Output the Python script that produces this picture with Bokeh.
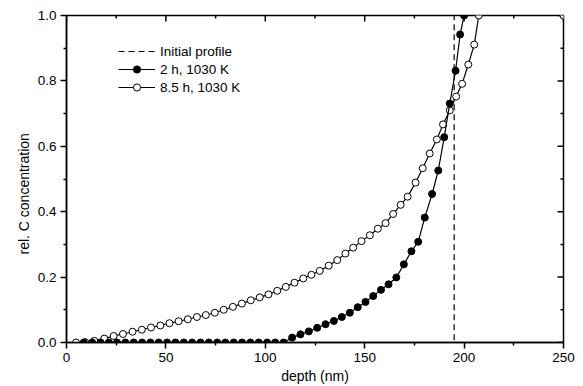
import math
from bokeh.plotting import figure
from bokeh.models import (Range1d, Legend, LegendItem, Title,
                          FixedTicker, CustomJSTickFormatter)
from bokeh.embed import file_html
from bokeh.resources import INLINE

# ---- data ----
init_depth = [0, 195, 195, 250]
init_conc = [0.0, 0.0, 1.0, 1.0]

filled_depth = [8.7, 12.9, 17.1, 21.3, 25.4, 29.6, 33.8, 38.0, 42.2, 46.4, 50.6,
                54.8, 59.0, 63.2, 67.4, 71.6, 75.8, 79.9, 84.1, 88.3, 92.5, 96.7,
                100.9, 105.0, 109.2, 113.5, 117.7, 121.9, 126.1, 130.3, 134.5,
                138.5, 142.5, 146.5, 150.4, 154.3, 158.2, 162.0, 165.9, 169.7,
                173.5, 176.9, 180.2, 183.9, 187.0, 190.0, 192.8, 195.7, 198.0, 200.0]
filled_conc = [0.0, 0.0, 0.0, 0.0, 0.0, 0.0, 0.0, 0.0, 0.0, 0.0, 0.0,
               0.0, 0.0, 0.0, 0.0, 0.0, 0.0, 0.0, 0.0, 0.0, 0.0, 0.0,
               0.0, 0.0, 0.0, 0.015, 0.025, 0.034, 0.045, 0.056, 0.066,
               0.078, 0.091, 0.108, 0.124, 0.142, 0.161, 0.178, 0.199, 0.239,
               0.279, 0.308, 0.382, 0.454, 0.526, 0.628, 0.731, 0.831, 0.942, 1.0]

open_depth = [4.8, 9.4, 14.0, 19.0, 23.7, 28.4, 33.2, 37.9, 42.5, 47.2, 51.8,
              56.4, 61.0, 65.6, 70.1, 74.6, 79.1, 83.7, 88.2, 92.7, 97.2, 101.6,
              106.0, 110.3, 114.7, 119.1, 123.2, 127.4, 131.9, 136.2, 140.3,
              144.2, 148.4, 152.6, 156.6, 160.5, 164.3, 168.1, 171.6, 175.6,
              179.2, 182.7, 186.3, 189.4, 192.8, 196.0, 199.0, 202.1, 205.1,
              207.4, 250.0]
open_conc = [0.0, 0.001, 0.005, 0.012, 0.02, 0.026, 0.033, 0.039, 0.046, 0.052,
             0.059, 0.065, 0.071, 0.078, 0.084, 0.091, 0.1, 0.109, 0.119, 0.129,
             0.138, 0.147, 0.158, 0.17, 0.183, 0.196, 0.207, 0.219, 0.235, 0.252,
             0.272, 0.29, 0.31, 0.328, 0.348, 0.365, 0.393, 0.421, 0.446, 0.489,
             0.533, 0.578, 0.621, 0.667, 0.71, 0.752, 0.791, 0.85, 0.911, 1.0, 1.0]

x_ticks = [0, 50, 100, 150, 200, 250]
x_minor = [25, 75, 125, 175, 225]
y_ticks = [0.0, 0.2, 0.4, 0.6, 0.8, 1.0]
y_minor = [0.1, 0.3, 0.5, 0.7, 0.9]

FONT = "Liberation Sans"
X_END = 250
Y_END = 1.0
FRAME_W = 1.5

p = figure(width=583, height=386, output_backend="svg", toolbar_location=None,
           x_range=Range1d(0, X_END), y_range=Range1d(0, Y_END),
           min_border_left=66, min_border_right=20, min_border_top=15,
           min_border_bottom=41)
p.background_fill_color = "white"
p.border_fill_color = "white"
p.outline_line_color = "black"
p.outline_line_width = FRAME_W
p.xgrid.visible = False
p.ygrid.visible = False


def style(ax, ticks, minor):
    ax.ticker = FixedTicker(ticks=ticks, minor_ticks=minor)
    ax.axis_line_color = "black"
    ax.axis_line_width = FRAME_W
    ax.major_tick_line_color = "black"
    ax.minor_tick_line_color = "black"
    ax.major_tick_line_width = FRAME_W
    ax.minor_tick_line_width = FRAME_W
    ax.major_tick_out = 6
    ax.major_tick_in = 0
    ax.minor_tick_out = 3
    ax.minor_tick_in = 0
    ax.major_label_text_font = FONT
    ax.major_label_text_font_size = "13.5px"
    ax.major_label_text_color = "black"
    ax.major_label_standoff = 4


xa = p.xaxis[0]
ya = p.yaxis[0]
style(xa, x_ticks, x_minor)
style(ya, y_ticks, y_minor)
ya.formatter = CustomJSTickFormatter(code="return tick.toFixed(1);")
xa.axis_label = "depth (nm)"
xa.axis_label_text_font = FONT
xa.axis_label_text_font_size = "14px"
xa.axis_label_text_font_style = "normal"
xa.axis_label_text_color = "black"
xa.axis_label_standoff = 3

ytitle = Title(text="rel. C concentration", align="left", offset=88,
               vertical_align="middle", standoff=4,
               text_font=FONT, text_font_size="14px",
               text_font_style="normal", text_color="black")
p.add_layout(ytitle, "left")

# inward ticks on the top and right frame edges (mirror of the axis ticks)
MAJ_Y = 0.018   # ~6 px in data units (y)
MIN_Y = 0.009
MAJ_X = 3.0     # ~6 px in data units (x)
MIN_X = 1.5
p.segment(x0=x_ticks, x1=x_ticks, y0=[Y_END] * len(x_ticks),
          y1=[Y_END - MAJ_Y] * len(x_ticks), line_color="black",
          line_width=FRAME_W)
p.segment(x0=x_minor, x1=x_minor, y0=[Y_END] * len(x_minor),
          y1=[Y_END - MIN_Y] * len(x_minor), line_color="black",
          line_width=FRAME_W)
p.segment(x0=[X_END] * len(y_ticks), x1=[X_END - MAJ_X] * len(y_ticks),
          y0=y_ticks, y1=y_ticks, line_color="black", line_width=FRAME_W)
p.segment(x0=[X_END] * len(y_minor), x1=[X_END - MIN_X] * len(y_minor),
          y0=y_minor, y1=y_minor, line_color="black", line_width=FRAME_W)

r_init = p.line(init_depth, init_conc, line_color="black", line_width=1.2,
                line_dash="6 4")
r_open_l = p.line(open_depth, open_conc, line_color="black", line_width=1.2)
r_open_m = p.scatter(open_depth, open_conc, size=7, marker="circle",
                     fill_color="white", line_color="black", line_width=1)
r_fill_l = p.line(filled_depth, filled_conc, line_color="black", line_width=1.2)
r_fill_m = p.scatter(filled_depth, filled_conc, size=7, marker="circle",
                     fill_color="black", line_color="black", line_width=1)

legend = Legend(items=[
    LegendItem(label="Initial profile", renderers=[r_init]),
    LegendItem(label="2 h, 1030 K", renderers=[r_fill_l, r_fill_m]),
    LegendItem(label="8.5 h, 1030 K", renderers=[r_open_l, r_open_m]),
], location=(52, 246))
legend.border_line_color = None
legend.background_fill_alpha = 0
legend.padding = 0
legend.margin = 0
legend.spacing = 0
legend.glyph_width = 37
legend.glyph_height = 18
legend.label_height = 18
legend.label_standoff = 5
legend.label_text_font = FONT
legend.label_text_font_size = "13.5px"
legend.label_text_color = "black"
p.add_layout(legend, "center")

open("out.html", "w").write(file_html(p, INLINE))
